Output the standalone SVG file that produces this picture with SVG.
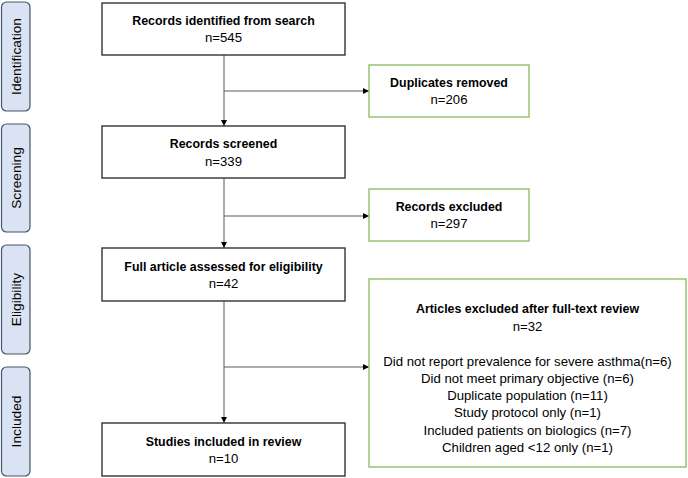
<svg xmlns="http://www.w3.org/2000/svg" width="688" height="478" viewBox="0 0 688 478">
  <style>
    .box { fill: #ffffff; stroke: #333333; stroke-width: 1.4; }
    .gbox { fill: #ffffff; stroke: #8cc068; stroke-width: 1.4; }
    .side { fill: #dae3f3; stroke: #44546a; stroke-width: 1.2; }
    .sidet { font-family: "Liberation Sans", Arial, sans-serif; font-size: 13.7px; fill: #000; text-anchor: middle; }
    .t { font-family: "Liberation Sans", Arial, sans-serif; font-size: 12.4px; font-weight: bold; fill: #000; text-anchor: middle; }
    .n { font-family: "Liberation Sans", Arial, sans-serif; font-size: 13.2px; fill: #000; text-anchor: middle; }
    .conn { stroke: #595959; stroke-width: 1; fill: none; }
  </style>
  <defs>
    <marker id="ah" viewBox="0 0 6 6" refX="6" refY="3" markerWidth="6" markerHeight="6" markerUnits="userSpaceOnUse" orient="auto">
      <path d="M0,0 L6,3 L0,6 Z" fill="#000"/>
    </marker>
  </defs>

  <g id="phase-identification">
    <rect class="side" x="1.5" y="2" width="28.5" height="109" rx="5"/>
    <text class="sidet" transform="translate(20.5,56.5) rotate(-90)">Identification</text>
  </g>
  <g id="phase-screening">
    <rect class="side" x="1.5" y="124" width="28.5" height="108" rx="5"/>
    <text class="sidet" transform="translate(20.5,178) rotate(-90)">Screening</text>
  </g>
  <g id="phase-eligibility">
    <rect class="side" x="1.5" y="245" width="28.5" height="109" rx="5"/>
    <text class="sidet" transform="translate(20.5,299.5) rotate(-90)">Eligibility</text>
  </g>
  <g id="phase-included">
    <rect class="side" x="1.5" y="367" width="28.5" height="109" rx="5"/>
    <text class="sidet" transform="translate(20.5,421.5) rotate(-90)">Included</text>
  </g>

  <g id="connectors">
    <line class="conn" x1="224" y1="55" x2="224" y2="126" marker-end="url(#ah)"/>
    <line class="conn" x1="224" y1="91" x2="369" y2="91" marker-end="url(#ah)"/>
    <line class="conn" x1="224" y1="178" x2="224" y2="248" marker-end="url(#ah)"/>
    <line class="conn" x1="224" y1="216" x2="369" y2="216" marker-end="url(#ah)"/>
    <line class="conn" x1="224" y1="301" x2="224" y2="423" marker-end="url(#ah)"/>
    <line class="conn" x1="224" y1="367" x2="369" y2="367" marker-end="url(#ah)"/>
  </g>

  <g id="records-identified">
    <rect class="box" x="102" y="3" width="243" height="52"/>
    <text class="t" x="223.5" y="25">Records identified from search</text>
    <text class="n" x="223.5" y="42">n=545</text>
  </g>
  <g id="duplicates-removed">
    <rect class="gbox" x="369" y="65" width="160" height="52"/>
    <text class="t" x="449" y="87">Duplicates removed</text>
    <text class="n" x="449" y="104">n=206</text>
  </g>
  <g id="records-screened">
    <rect class="box" x="102" y="126" width="243" height="52"/>
    <text class="t" x="223.5" y="148">Records screened</text>
    <text class="n" x="223.5" y="166">n=339</text>
  </g>
  <g id="records-excluded">
    <rect class="gbox" x="369" y="189" width="160" height="52"/>
    <text class="t" x="449" y="211">Records excluded</text>
    <text class="n" x="449" y="228">n=297</text>
  </g>
  <g id="full-article">
    <rect class="box" x="102" y="248" width="243" height="53"/>
    <text class="t" x="223.5" y="271">Full article assessed for eligibility</text>
    <text class="n" x="223.5" y="288">n=42</text>
  </g>
  <g id="articles-excluded">
    <rect class="gbox" x="369" y="279" width="317" height="188"/>
    <text class="t" x="527.5" y="313">Articles excluded after full-text review</text>
    <text class="n" x="527.5" y="331">n=32</text>
    <text class="n" x="527.5" y="365.5">Did not report prevalence for severe asthma(n=6)</text>
    <text class="n" x="527.5" y="382.5">Did not meet primary objective (n=6)</text>
    <text class="n" x="527.5" y="400">Duplicate population (n=11)</text>
    <text class="n" x="527.5" y="417">Study protocol only (n=1)</text>
    <text class="n" x="527.5" y="434.5">Included patients on biologics (n=7)</text>
    <text class="n" x="527.5" y="451.5">Children aged &lt;12 only (n=1)</text>
  </g>
  <g id="studies-included">
    <rect class="box" x="102" y="423" width="243" height="53"/>
    <text class="t" x="223.5" y="446">Studies included in review</text>
    <text class="n" x="223.5" y="463">n=10</text>
  </g>
</svg>
